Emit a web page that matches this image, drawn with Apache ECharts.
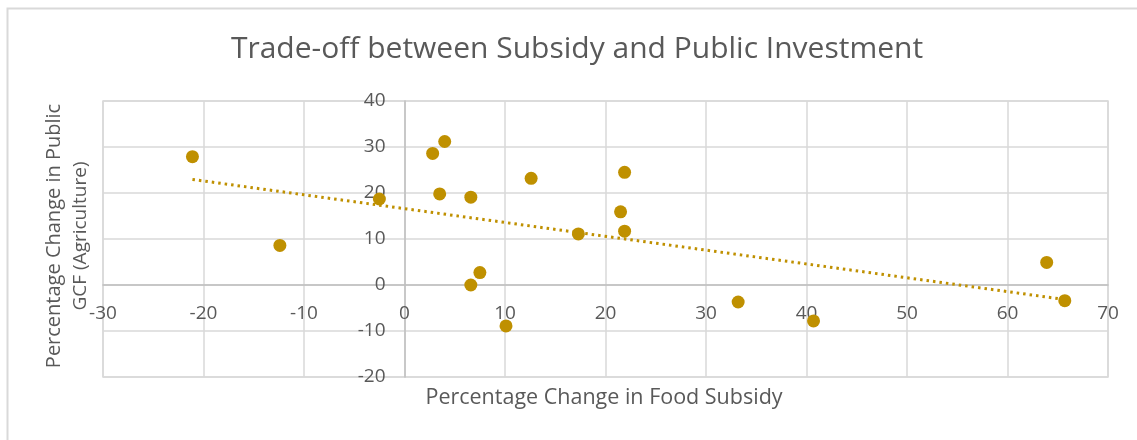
<!DOCTYPE html>
<html>
<head>
<meta charset="utf-8">
<script src="https://cdn.jsdelivr.net/npm/echarts@6/dist/echarts.min.js"></script>
<style>
    html, body { margin: 0; padding: 0; background: #fff; }
    #main { width: 1137px; height: 440px; }
</style>
</head>
<body>
<div id="main"></div>
<script>
// 数据：食品补贴变化 vs 农业公共投资变化
var subsidyChange = [-21.1, -12.4, -2.5, 2.8, 4.0, 3.5, 6.6, 6.6, 7.5, 10.1, 12.6, 17.3, 21.9, 21.5, 21.9, 33.2, 40.7, 63.9, 65.7];
var gcfChange = [27.9, 8.6, 18.7, 28.6, 31.2, 19.8, 19.1, 0.0, 2.7, -8.9, 23.2, 11.1, 24.5, 15.9, 11.7, -3.7, -7.8, 4.9, -3.4];
var xTicks = [-30, 70, 10];
var yTicks = [-20, 40, 10];

var titleText = 'Trade-off between Subsidy and Public Investment';
var xName = 'Percentage Change in Food Subsidy';
var yName = ['Percentage Change in Public', 'GCF (Agriculture)'];

var points = [];
for (var i = 0; i < subsidyChange.length; i++) {
    points.push([subsidyChange[i], gcfChange[i]]);
}

// 线性趋势线 (最小二乘)
function trend(xs, ys) {
    var n = xs.length, sx = 0, sy = 0, sxx = 0, sxy = 0;
    for (var i = 0; i < n; i++) {
        sx += xs[i]; sy += ys[i];
        sxx += xs[i] * xs[i]; sxy += xs[i] * ys[i];
    }
    var b = (n * sxy - sx * sy) / (n * sxx - sx * sx);
    var a = (sy - b * sx) / n;
    var x0 = Math.min.apply(null, xs), x1 = Math.max.apply(null, xs);
    return [[x0, a + b * x0], [x1, a + b * x1]];
}
var trendLine = trend(subsidyChange, gcfChange);

var gold = '#BF9000';
var textGrey = '#595959';
var font = '"Open Sans", sans-serif';

// 网格位置, 轴在 0 处交叉 (Excel 风格)
var grid = { left: 103, right: 29, top: 101, bottom: 63 };
var gw = 1137 - grid.left - grid.right;
var gh = 440 - grid.top - grid.bottom;
var xZeroOffset = -gw * (0 - xTicks[0]) / (xTicks[1] - xTicks[0]);
var yZeroOffset = -(gh - gh * (yTicks[1] - 0) / (yTicks[1] - yTicks[0]));

var myChart = echarts.init(document.getElementById('main'));
var option = {
    backgroundColor: '#fff',
    animation: false,
    grid: grid,
    xAxis: {
        type: 'value',
        min: xTicks[0], max: xTicks[1], interval: xTicks[2],
        offset: yZeroOffset,
        axisLine: { onZero: false, lineStyle: { color: '#bfbfbf', width: 1.5 } },
        axisTick: { show: false },
        axisLabel: { color: textGrey, fontFamily: font, fontSize: 19, margin: 19 },
        splitLine: { lineStyle: { color: '#d9d9d9', width: 1.5 } }
    },
    yAxis: {
        type: 'value',
        min: yTicks[0], max: yTicks[1], interval: yTicks[2],
        offset: xZeroOffset,
        axisLine: { onZero: false, lineStyle: { color: '#bfbfbf', width: 1.5 } },
        axisTick: { show: false },
        axisLabel: { color: textGrey, fontFamily: font, fontSize: 19, margin: 19 },
        splitLine: { lineStyle: { color: '#d9d9d9', width: 1.5 } }
    },
    graphic: [
        {
            type: 'rect', z: -1, silent: true,
            shape: { x: 7.5, y: 8.5, width: 1150, height: 460 },
            style: { fill: 'none', stroke: '#d9d9d9', lineWidth: 2 }
        },
        {
            type: 'rect', silent: true,
            shape: { x: grid.left, y: grid.top, width: gw, height: gh },
            style: { fill: 'none', stroke: '#d9d9d9', lineWidth: 1.5 }
        },
        {
            type: 'text', x: 577, y: 49,
            style: { text: titleText, fill: textGrey, font: '30px ' + font, align: 'center', verticalAlign: 'middle' }
        },
        {
            type: 'text', x: 604, y: 398,
            style: { text: xName, fill: textGrey, font: '21.5px ' + font, align: 'center', verticalAlign: 'middle' }
        },
        {
            type: 'text', x: 54, y: 236, rotation: Math.PI / 2,
            style: { text: yName[0], fill: textGrey, font: '20px ' + font, align: 'center', verticalAlign: 'middle' }
        },
        {
            type: 'text', x: 81, y: 236, rotation: Math.PI / 2,
            style: { text: yName[1], fill: textGrey, font: '19px ' + font, align: 'center', verticalAlign: 'middle' }
        }
    ],
    series: [
        {
            type: 'scatter',
            data: points,
            symbol: 'circle',
            symbolSize: 13,
            itemStyle: { color: gold, opacity: 1 },
            z: 3
        },
        {
            type: 'line',
            data: trendLine,
            symbol: 'none',
            lineStyle: { color: gold, width: 3, type: [2.5, 4] },
            z: 2
        }
    ]
};
myChart.setOption(option);
</script>
</body>
</html>
